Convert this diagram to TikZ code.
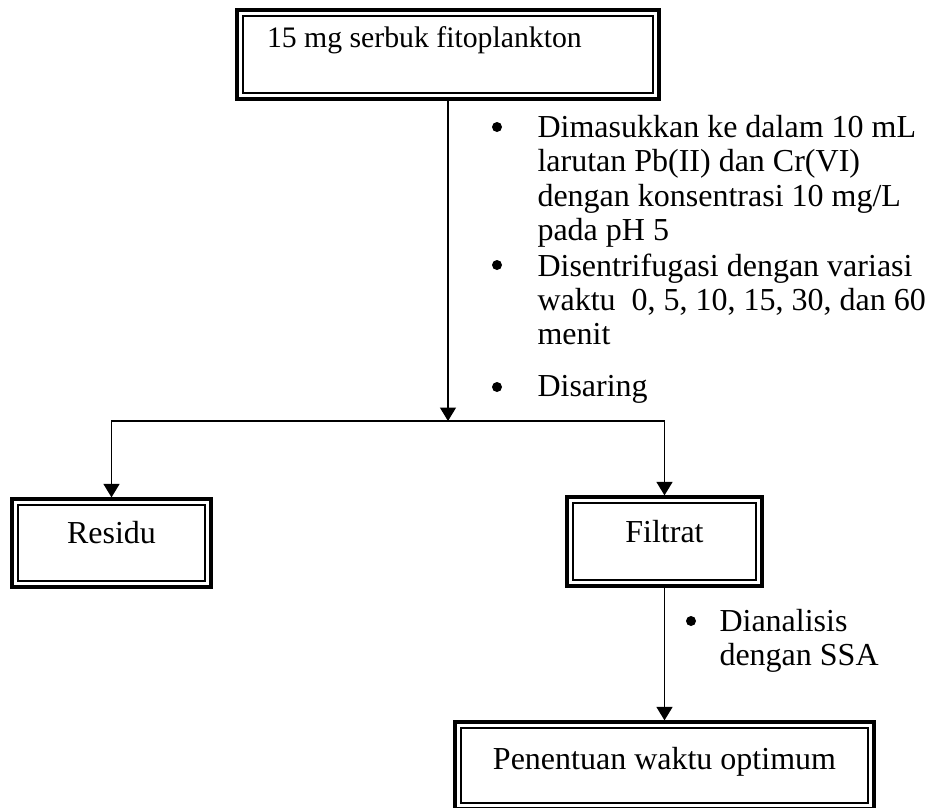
\documentclass[tikz,border=0pt]{standalone}
\usepackage{fontspec}
\setmainfont{Liberation Serif}
\usetikzlibrary{arrows.meta,calc}

\begin{document}
\begin{tikzpicture}
[x=0.4pt,y=-0.4pt,
 font=\fontsize{12.8}{13.7}\selectfont,
 frame/.style={draw,line width=1.3pt,inner sep=0pt,text height=9pt,text depth=9pt},
 flow/.style={line width=0.6pt,-{Triangle[length=5.4pt,width=6.4pt]}},
 note/.style={anchor=north west,inner sep=0pt,align=left},
 dot/.style={circle,fill,inner sep=0pt,minimum size=4pt}]

\useasboundingbox (0,0) rectangle (933,807);
\clip (0,0) rectangle (933,807);

% boxes
\node (serbuk) [frame,minimum width=168.8pt,minimum height=35.6pt,text depth=14.6pt,
  font=\fontsize{11.9}{13.7}\selectfont] at (448,54.5) {\makebox[144.8pt][l]{15 mg serbuk fitoplankton}};
\node (residu) [frame,minimum width=79.6pt,minimum height=35.2pt] at (111.5,543) {Residu};
\node (filtrat) [frame,minimum width=78pt,minimum height=35.6pt,text depth=8pt] at (664.5,541.5) {Filtrat};
\node (waktu) [frame,minimum width=167.6pt,minimum height=34.8pt,text depth=6pt] at (664.5,765.5) {Penentuan waktu optimum};
\foreach \n in {serbuk,residu,filtrat,waktu}
  \draw[line width=0.6pt] ([shift={(3pt,3pt)}]\n.south west) rectangle ([shift={(-3pt,-3pt)}]\n.north east);

% connectors
\coordinate (split) at (448,421);
\draw[flow] (serbuk) -- (split);
\draw[flow] (split) -| (residu);
\draw[flow] (split) -| (filtrat);
\draw[flow] (filtrat) -- (waktu);

% steps
\node (isi1) [note] at (537,115) {Dimasukkan ke dalam 10 mL\\larutan Pb(II) dan Cr(VI)\\dengan konsentrasi 10 mg/L\\pada pH 5};
\node (isi2) [note] at (537,253) {Disentrifugasi dengan variasi\\waktu\ \ 0, 5, 10, 15, 30, dan 60\\menit};
\node (isi3) [note] at (537,375) {Disaring};
\node (isi4) [note] at (719,609) {Dianalisis\\dengan SSA};
\foreach \i/\dx in {1/-40,2/-40,3/-40,4/-28}
  \node (dot\i) [dot] at ($(isi\i.north west)+(\dx,12)$) {};
\end{tikzpicture}
\end{document}
